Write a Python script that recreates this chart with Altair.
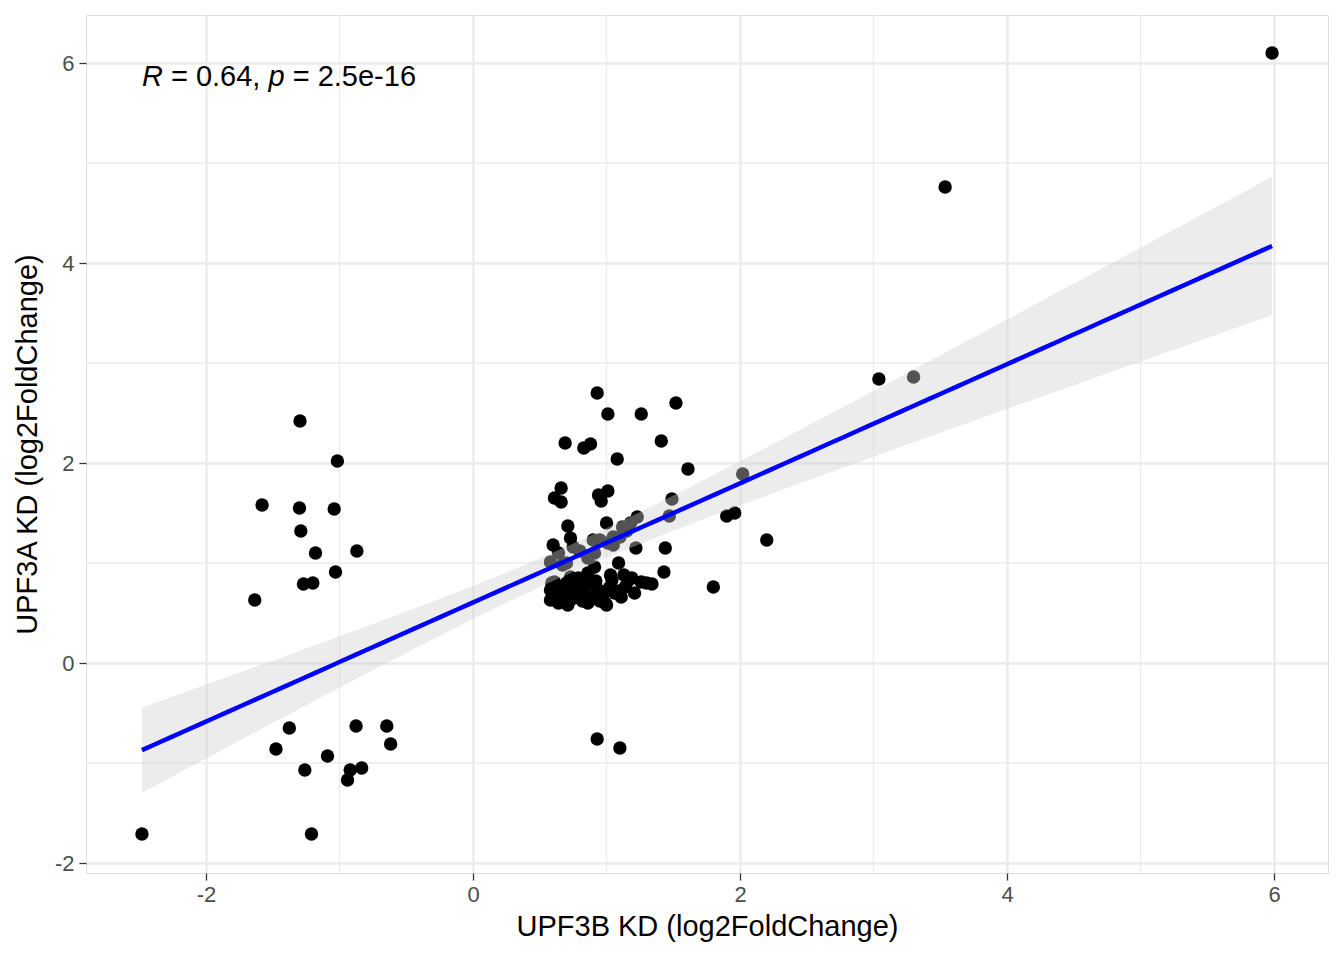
import altair as alt
import pandas as pd
import numpy as np

# ---- data ----
x_vals = [
    5.985, 3.536, 3.04, 3.30, 2.20, 1.80, 2.02, 1.90, 1.96, 1.61, 1.49, 1.47, 1.52, 1.26, 1.41,
    0.93, 1.01, 0.69, 0.83, 0.88, 1.08, 0.66, 0.61, 0.66, 0.94, 1.01, 0.96, 0.71, 1.23, 1.44,
    1.43, 1.34, 1.22, 1.09, 0.93, 1.10,
    -1.296, -1.016, -1.58, -1.30, -1.04, -1.29, -1.18, -0.87, -1.03, -1.27, -1.20, -1.635,
    -1.376, -0.876, -0.646, -1.476, -0.617, -1.09, -1.26, -0.834, -0.92, -0.94, -2.48, -1.21,
    0.73, 0.60, 0.75, 0.90, 0.95, 1.01, 1.05, 1.12, 1.18, 1.00, 0.86, 0.58, 0.67, 1.05, 1.10,
    0.91, 0.86, 0.61, 0.91, 0.70, 1.15, 0.80, 0.64,
    0.58, 0.58, 0.66, 0.71, 0.76, 0.81, 0.86, 0.94, 0.99, 1.04, 1.06, 1.14, 1.19, 1.21, 1.26,
    1.00, 0.70, 0.79, 0.89, 1.11, 0.60, 0.62, 0.64, 0.68, 0.74, 0.78, 0.84, 0.88, 0.92, 0.97,
    1.02, 1.09, 1.16, 0.73, 0.82, 0.95, 1.30, 0.59, 0.69, 0.76, 0.85, 1.13, 1.03,
]
y_vals = [
    6.10, 4.76, 2.84, 2.86, 1.23, 0.76, 1.89, 1.47, 1.50, 1.94, 1.64, 1.47, 2.60, 2.49, 2.22,
    2.70, 2.49, 2.20, 2.15, 2.19, 2.04, 1.75, 1.65, 1.61, 1.68, 1.72, 1.62, 1.37, 1.46, 1.15,
    0.91, 0.79, 1.15, 1.00, -0.76, -0.85,
    2.42, 2.02, 1.58, 1.55, 1.54, 1.32, 1.10, 1.12, 0.91, 0.79, 0.80, 0.63,
    -0.65, -0.63, -0.63, -0.86, -0.81, -0.93, -1.07, -1.05, -1.07, -1.17, -1.71, -1.71,
    1.25, 1.18, 1.16, 1.23, 1.23, 1.20, 1.26, 1.36, 1.40, 1.40, 1.05, 1.01, 0.98, 1.18, 1.26,
    0.96, 0.90, 0.81, 1.10, 1.00, 1.32, 1.12, 1.10,
    0.73, 0.63, 0.68, 0.58, 0.76, 0.66, 0.60, 0.73, 0.60, 0.83, 0.70, 0.76, 0.85, 0.70, 0.81,
    0.58, 0.80, 0.85, 0.78, 0.66, 0.68, 0.78, 0.60, 0.72, 0.64, 0.70, 0.75, 0.65, 0.82, 0.68,
    0.75, 0.72, 0.82, 0.86, 0.62, 0.62, 0.80, 0.80, 0.62, 0.68, 0.84, 0.88, 0.88,
]

x_major = [-2, 0, 2, 4, 6]
y_major = [-2, 0, 2, 4, 6]
x_minor = [-1, 1, 3, 5]
y_minor = [-1, 1, 3, 5]

x_title = "UPF3B KD (log2FoldChange)"
y_title = "UPF3A KD (log2FoldChange)"
stat_parts = [("R", "italic"), (" = 0.64, ", "normal"), ("p", "italic"), (" = 2.5e-16", "normal")]

FONT = "Liberation Sans"

pts = pd.DataFrame({"x": x_vals, "y": y_vals})

# ---- linear fit and 95% confidence band (as geom_smooth(method="lm")) ----
xa = np.array(x_vals)
ya = np.array(y_vals)
n = len(xa)
b, a = np.polyfit(xa, ya, 1)
resid = ya - (a + b * xa)
s = np.sqrt(np.sum(resid ** 2) / (n - 2))
df_ = n - 2
z = 1.959964
tcrit = z + (z ** 3 + z) / (4 * df_) + (5 * z ** 5 + 16 * z ** 3 + 3 * z) / (96 * df_ ** 2)
xs = np.linspace(xa.min(), xa.max(), 80)
se = s * np.sqrt(1.0 / n + (xs - xa.mean()) ** 2 / np.sum((xa - xa.mean()) ** 2))
fit = pd.DataFrame({"x": xs, "y": a + b * xs, "lo": a + b * xs - tcrit * se, "hi": a + b * xs + tcrit * se})

xscale = alt.Scale(domain=[-2.899, 6.404], nice=False, zero=False)
yscale = alt.Scale(domain=[-2.1, 6.48], nice=False, zero=False)

xaxis = alt.Axis(
    values=x_major, title=x_title, labelExpr="'' + datum.value",
    grid=True, gridColor="#ebebeb", gridWidth=2.4,
    domain=False, tickColor="#333333", tickWidth=1.3, tickSize=7,
    labelColor="#4d4d4d", labelFontSize=22, labelFont=FONT, labelPadding=4,
    titleFont=FONT, titleFontSize=29, titleFontWeight="normal", titleColor="black", titlePadding=7,
)
yaxis = alt.Axis(
    values=y_major, title=y_title, labelExpr="'' + datum.value",
    grid=True, gridColor="#ebebeb", gridWidth=2.4,
    domain=False, tickColor="#333333", tickWidth=1.3, tickSize=7,
    labelColor="#4d4d4d", labelFontSize=22, labelFont=FONT, labelPadding=5,
    titleFont=FONT, titleFontSize=29, titleFontWeight="normal", titleColor="black", titlePadding=12,
)

minor_x = alt.Chart(pd.DataFrame({"v": x_minor})).mark_rule(color="#ebebeb", strokeWidth=1.3).encode(
    x=alt.X("v:Q", scale=xscale, axis=xaxis)
)
minor_y = alt.Chart(pd.DataFrame({"v": y_minor})).mark_rule(color="#ebebeb", strokeWidth=1.3).encode(
    y=alt.Y("v:Q", scale=yscale, axis=yaxis)
)

points = alt.Chart(pts).mark_circle(color="black", opacity=1, size=180).encode(
    x=alt.X("x:Q", scale=xscale, axis=xaxis),
    y=alt.Y("y:Q", scale=yscale, axis=yaxis),
)

band = alt.Chart(fit).mark_area(color="#cfcfcf", opacity=0.4).encode(
    x=alt.X("x:Q", scale=xscale, axis=xaxis),
    y=alt.Y("lo:Q", scale=yscale, axis=yaxis),
    y2="hi:Q",
)

line = alt.Chart(fit).mark_line(color="#0000ff", strokeWidth=4.5).encode(
    x=alt.X("x:Q", scale=xscale, axis=xaxis),
    y=alt.Y("y:Q", scale=yscale, axis=yaxis),
)

# statistic label, pieces with italic R and p (leading/trailing spaces turned into offsets)
fs = 29
arial_w = {"R": 722, " ": 278, "=": 584, "0": 556, ".": 278, "6": 556, "4": 556, ",": 278, "p": 556}
label_pos = pd.DataFrame({"x": [float(xa.min())], "y": [5.86]})
texts = []
offset = 0.0
for txt, style in stat_parts:
    lead = len(txt) - len(txt.lstrip(" "))
    core = txt.strip(" ")
    texts.append(
        alt.Chart(label_pos).mark_text(
            text=core, font=FONT, fontSize=fs, fontStyle=style, color="black",
            align="left", baseline="middle", dx=offset + lead * 0.278 * fs,
        ).encode(x=alt.X("x:Q", scale=xscale, axis=xaxis), y=alt.Y("y:Q", scale=yscale, axis=yaxis))
    )
    offset += sum(arial_w.get(ch, 556) for ch in txt) / 1000.0 * fs

chart = alt.layer(minor_x, minor_y, points, band, line, *texts).properties(
    width=1242, height=858,
    autosize=alt.AutoSizeParams(type="none"),
    padding={"left": 78, "top": 7, "right": 8, "bottom": 80},
).configure_view(stroke="#333333", strokeWidth=1.3).configure(background="white")

chart.save("out.html", embed_options={"renderer": "svg", "actions": False})
